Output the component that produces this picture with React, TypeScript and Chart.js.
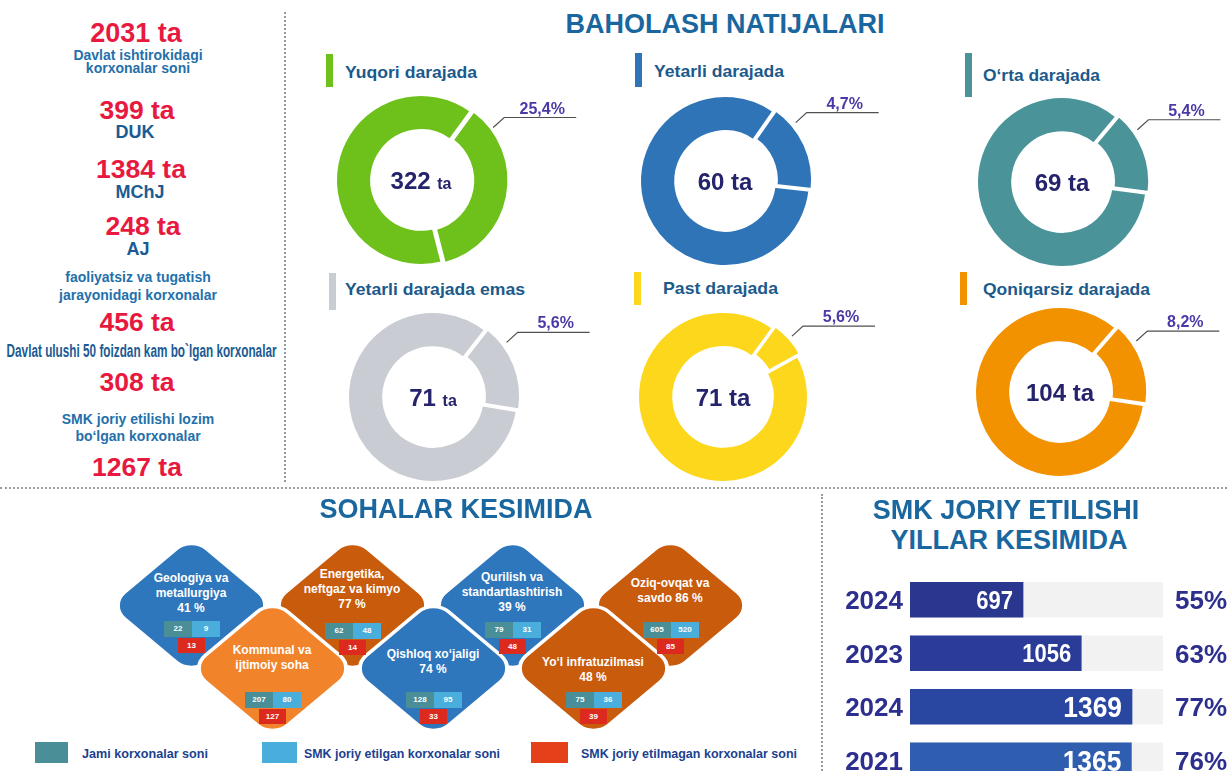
import React, { useEffect, useRef } from "react";
import { Chart, registerables } from "chart.js";

Chart.register(...registerables);

const FONT = '"Liberation Sans", Arial, Helvetica, sans-serif';

// ---------------- DATA ----------------
// Left summary panel
const totalEnterprises = 2031;
const legalFormLabels = ["DUK", "MChJ", "AJ"];
const legalFormCounts = [399, 1384, 248];
const inactiveCount = 456;
const minorityShareCount = 308;
const smkRequiredCount = 1267;

// Baholash natijalari (donuts)
const ratingCategories = [
  "Yuqori darajada",
  "Yetarli darajada",
  "O‘rta darajada",
  "Yetarli darajada emas",
  "Past darajada",
  "Qoniqarsiz darajada",
];
const ratingCounts = [322, 60, 69, 71, 71, 104];
const ratingPercentLabels = ["25,4%", "4,7%", "5,4%", "5,6%", "5,6%", "8,2%"];
// highlighted slice and remaining ring, as drawn in the picture (share of the ring)
const ratingSliceShares = [36, 17, 16, 17, 7, 16];
const ratingRestShares = [64, 83, 84, 83, 93, 84];

// Sohalar kesimida
const sectorNames = [
  ["Geologiya va", "metallurgiya"],
  ["Energetika,", "neftgaz va kimyo"],
  ["Kommunal va", "ijtimoiy soha"],
  ["Qishloq xo‘jaligi"],
  ["Qurilish va", "standartlashtirish"],
  ["Yo‘l infratuzilmasi"],
  ["Oziq-ovqat va", "savdo"],
];
const sectorShares: (number | null)[] = [41, 77, null, 74, 39, 48, 86];
const sectorTotal = [22, 62, 207, 128, 79, 75, 605];
const sectorWithSmk = [9, 48, 80, 95, 31, 36, 520];
const sectorWithoutSmk = [13, 14, 127, 33, 48, 39, 85];
const sectorLegend = [
  "Jami korxonalar soni",
  "SMK joriy etilgan korxonalar soni",
  "SMK joriy etilmagan korxonalar soni",
];

// SMK joriy etilishi yillar kesimida
const smkYears = ["2024", "2023", "2024", "2021"];
const smkCounts = [697, 1056, 1369, 1365];
const smkPercents = ["55%", "63%", "77%", "76%"];
const smkScaleMax = 1560;

// ---------------- STYLE / LAYOUT ----------------
const RED = "#e8193f";
const BLUE_TXT = "#2470ab";
const DARK_BLUE = "#1b5b93";
const TITLE = "#1a67a0";
const HEAD = "#1c5a8c";
const ratingColors = ["#6ec11b", "#2e74b7", "#4a9399", "#c9cdd3", "#fdd71c", "#f39200"];
const donutCenters = [
  [421, 180],
  [725, 181],
  [1062, 182],
  [433, 397],
  [723, 397],
  [1060, 392],
];
const donutStartAngles = [36, 35, 40, 38, 36, 41];
const centerUnitSizes = [16, 24, 24, 16, 24, 24];
const headerLayout = [
  { bx: 326, by: 54, bh: 33, tx: 345, ty: 72, w: 132 },
  { bx: 635, by: 53, bh: 34, tx: 654, ty: 71, w: 130 },
  { bx: 965, by: 53, bh: 44, tx: 983, ty: 75, w: 117 },
  { bx: 329, by: 273, bh: 37, tx: 345, ty: 289, w: 180 },
  { bx: 634, by: 272, bh: 33, tx: 663, ty: 288, w: 115 },
  { bx: 960, by: 272, bh: 33, tx: 983, ty: 289, w: 167 },
];
const smkBarColors = ["#29378f", "#2a3c98", "#2946a1", "#2f5daf"];
const SMK_TXT = "#2d2f8e";

const BLUE_D = "#2f77bd";
const ORANGE_D = "#c95b0c";
const ORANGE_L = "#f1832a";
const diamondLayout = [
  { cx: 191, cy: 605, color: BLUE_D, ty: -27, by: 16, inline: false, row: 0 },
  { cx: 352, cy: 605, color: ORANGE_D, ty: -31, by: 18, inline: false, row: 0 },
  { cx: 272, cy: 668, color: ORANGE_L, ty: -18, by: 24, inline: false, row: 1 },
  { cx: 433, cy: 668, color: BLUE_D, ty: -14, by: 24, inline: false, row: 1 },
  { cx: 512, cy: 605, color: BLUE_D, ty: -28, by: 17, inline: false, row: 0 },
  { cx: 593, cy: 668, color: ORANGE_D, ty: -6, by: 24, inline: false, row: 1 },
  { cx: 670, cy: 605, color: ORANGE_D, ty: -22, by: 17, inline: true, row: 0 },
];
const DIAMOND_SIDE = 121;
const DIAMOND_RADIUS = 24;
const BOX_TEAL = "#4a8f97";
const BOX_LIGHT = "#4aaedc";
const BOX_RED = "#dc2a1e";
const LEGEND_RED = "#e4401a";

// ---------------- HELPERS ----------------
let mctx: CanvasRenderingContext2D | null = null;
function tw(text: string, font: string): number {
  if (!mctx) mctx = document.createElement("canvas").getContext("2d");
  mctx!.font = font;
  return mctx!.measureText(text).width;
}

type TP = {
  x: number;
  y: number;
  text: string;
  size: number;
  color: string;
  align?: "center" | "left";
  fit?: number;
  weight?: number | string;
};
function Txt({ x, y, text, size, color, align = "center", fit, weight = "bold" }: TP) {
  const font = `${weight} ${size}px ${FONT}`;
  const s = fit ? fit / tw(text, font) : 1;
  const wrap: React.CSSProperties = {
    position: "absolute",
    top: y - size / 2,
    height: size,
    lineHeight: `${size}px`,
    whiteSpace: "nowrap",
    fontFamily: FONT,
    fontSize: size,
    fontWeight: weight as any,
    color,
  };
  if (align === "center") {
    wrap.left = x - 600;
    wrap.width = 1200;
    wrap.textAlign = "center";
  } else {
    wrap.left = x;
  }
  return (
    <div style={wrap}>
      <span
        style={{
          display: "inline-block",
          transform: `scaleX(${s})`,
          transformOrigin: align === "center" ? "50% 50%" : "0 50%",
        }}
      >
        {text}
      </span>
    </div>
  );
}

function Box({ x, y, w, h, color }: { x: number; y: number; w: number; h: number; color: string }) {
  return <div style={{ position: "absolute", left: x, top: y, width: w, height: h, background: color }} />;
}

// ---------------- DONUT ----------------
function Donut({ i }: { i: number }) {
  const ref = useRef<HTMLCanvasElement>(null);
  const [cx, cy] = donutCenters[i];
  useEffect(() => {
    const plugin = {
      id: "donutDeco" + i,
      afterDatasetsDraw(chart: any) {
        const ctx = chart.ctx as CanvasRenderingContext2D;
        const arc = chart.getDatasetMeta(0).data[0];
        const { x, y, startAngle, endAngle, outerRadius } = arc.getProps(
          ["x", "y", "startAngle", "endAngle", "outerRadius"],
          true
        );
        const off = arc.options.offset || 0;
        const mid = (startAngle + endAngle) / 2;
        const ox = x + Math.cos(mid) * off;
        const oy = y + Math.sin(mid) * off;
        const a = startAngle + Math.min((14 * Math.PI) / 180, (endAngle - startAngle) / 2);
        const px = ox + Math.cos(a) * (outerRadius - 1.5);
        const py = oy + Math.sin(a) * (outerRadius - 1.5);
        const ex = px + 11;
        const ey = py - 10;
        ctx.save();
        ctx.strokeStyle = "#4f4f4f";
        ctx.lineWidth = 1.2;
        ctx.beginPath();
        ctx.moveTo(px, py);
        ctx.lineTo(ex, ey);
        ctx.lineTo(ex + 72, ey);
        ctx.stroke();
        ctx.fillStyle = "#4a3aa6";
        ctx.font = `bold 16px ${FONT}`;
        ctx.textAlign = "center";
        ctx.textBaseline = "alphabetic";
        ctx.fillText(ratingPercentLabels[i], ex + 38, ey - 4);

        const numF = `bold 24px ${FONT}`;
        const unitF = `bold ${centerUnitSizes[i]}px ${FONT}`;
        const num = String(ratingCounts[i]);
        ctx.font = numF;
        const nw = ctx.measureText(num).width;
        const sw = ctx.measureText(" ").width;
        ctx.font = unitF;
        const uw = ctx.measureText("ta").width;
        const sx = x - (nw + sw + uw) / 2;
        const by = y + 8.5;
        ctx.fillStyle = "#24236c";
        ctx.textAlign = "left";
        ctx.font = numF;
        ctx.fillText(num, sx, by);
        ctx.font = unitF;
        ctx.fillText("ta", sx + nw + sw, by);
        ctx.restore();
      },
    };
    const chart = new Chart(ref.current!, {
      type: "doughnut",
      data: {
        labels: [ratingCategories[i], "boshqa"],
        datasets: [
          {
            data: [ratingSliceShares[i], ratingRestShares[i]],
            backgroundColor: [ratingColors[i], ratingColors[i]],
            borderColor: "#ffffff",
            borderWidth: 3,
            hoverBorderWidth: 3,
            offset: [8, 0],
            hoverOffset: 0,
          } as any,
        ],
      },
      options: {
        responsive: false,
        animation: false,
        devicePixelRatio: 1,
        events: [],
        rotation: donutStartAngles[i],
        radius: 85.5,
        cutout: 54.5,
        layout: { padding: { left: 10, right: 90, top: 0, bottom: 0 } },
        plugins: { legend: { display: false }, tooltip: { enabled: false } },
      } as any,
      plugins: [plugin],
    });
    return () => chart.destroy();
  }, [i]);
  return (
    <canvas
      ref={ref}
      width={300}
      height={200}
      style={{ position: "absolute", left: cx - 110, top: cy - 100, width: 300, height: 200 }}
    />
  );
}

// ---------------- SMK BARS ----------------
function SmkBars() {
  const ref = useRef<HTMLCanvasElement>(null);
  useEffect(() => {
    const plugin = {
      id: "smkLabels",
      afterDatasetsDraw(chart: any) {
        const ctx = chart.ctx as CanvasRenderingContext2D;
        const meta = chart.getDatasetMeta(0);
        const yScale = chart.scales.y;
        meta.data.forEach((el: any, i: number) => {
          const { x, base } = el.getProps(["x", "y", "base"], true);
          const y = yScale.getPixelForValue(i);
          const fs = x - base > 200 ? 30 : 25;
          ctx.save();
          ctx.translate(x - 10, y + fs * 0.358);
          ctx.scale(0.88, 1);
          ctx.font = `bold ${fs}px ${FONT}`;
          ctx.fillStyle = "#ffffff";
          ctx.textAlign = "right";
          ctx.textBaseline = "alphabetic";
          ctx.fillText(String(smkCounts[i]), 0, 0);
          ctx.restore();
          ctx.save();
          ctx.font = `bold 26px ${FONT}`;
          ctx.fillStyle = SMK_TXT;
          ctx.textBaseline = "alphabetic";
          ctx.textAlign = "left";
          ctx.fillText(smkPercents[i], chart.chartArea.right + 12, y + 26 * 0.358);
          ctx.textAlign = "right";
          ctx.fillText(smkYears[i], chart.chartArea.left - 7, y + 26 * 0.358);
          ctx.restore();
        });
      },
    };
    const chart = new Chart(ref.current!, {
      type: "bar",
      data: {
        labels: smkYears,
        datasets: [
          {
            data: smkCounts,
            backgroundColor: smkBarColors,
            grouped: false,
            barThickness: 35,
          } as any,
          {
            data: smkYears.map(() => smkScaleMax),
            backgroundColor: "#f2f2f2",
            grouped: false,
            barThickness: 35,
          } as any,
        ],
      },
      options: {
        indexAxis: "y",
        responsive: false,
        animation: false,
        devicePixelRatio: 1,
        events: [],
        layout: { padding: { top: 3, right: 77, bottom: 0, left: 0 } },
        scales: {
          x: { display: false, min: 0, max: smkScaleMax },
          y: {
            grid: { display: false, drawTicks: false },
            border: { display: false },
            ticks: { display: false },
            afterFit(scale: any) {
              scale.width = 80;
              scale.paddingTop = 0;
              scale.paddingBottom = 0;
            },
          },
        },
        plugins: { legend: { display: false }, tooltip: { enabled: false } },
      } as any,
      plugins: [plugin],
    });
    return () => chart.destroy();
  }, []);
  return (
    <canvas
      ref={ref}
      width={410}
      height={217}
      style={{ position: "absolute", left: 830, top: 570, width: 410, height: 217 }}
    />
  );
}

// ---------------- DIAMONDS ----------------
function DiamondShape({ i }: { i: number }) {
  const L = diamondLayout[i];
  const half = DIAMOND_SIDE / 2;
  return (
    <div
      style={{
        position: "absolute",
        left: L.cx - half,
        top: L.cy - half,
        width: DIAMOND_SIDE,
        height: DIAMOND_SIDE,
        boxSizing: "border-box",
        border: "4px solid #ffffff",
        borderRadius: DIAMOND_RADIUS,
        background: L.color,
        transform: "scaleY(0.84) rotate(45deg)",
      }}
    />
  );
}

function DiamondContent({ i }: { i: number }) {
  const L = diamondLayout[i];
  const lines = [...sectorNames[i]];
  const share = sectorShares[i];
  if (share !== null) {
    if (L.inline) lines[lines.length - 1] = `${lines[lines.length - 1]} ${share} %`;
    else lines.push(`${share} %`);
  }
  const pairTop = L.cy + L.by;
  const numStyle = (x: number, y: number, w: number, h: number, bg: string): React.CSSProperties => ({
    position: "absolute",
    left: x,
    top: y,
    width: w,
    height: h,
    background: bg,
    color: "#fff",
    fontFamily: FONT,
    fontWeight: "bold",
    fontSize: 8,
    lineHeight: `${h}px`,
    textAlign: "center",
  });
  return (
    <>
      {lines.map((t, k) => (
        <Txt key={k} x={L.cx} y={L.cy + L.ty + k * 15} text={t} size={12} color="#ffffff" />
      ))}
      <div style={numStyle(L.cx - 27, pairTop, 28, 16, BOX_TEAL)}>{sectorTotal[i]}</div>
      <div style={numStyle(L.cx + 1, pairTop, 28, 16, BOX_LIGHT)}>{sectorWithSmk[i]}</div>
      <div style={numStyle(L.cx - 13, pairTop + 17, 27, 15, BOX_RED)}>{sectorWithoutSmk[i]}</div>
    </>
  );
}

// ---------------- APP ----------------
export default function App() {
  useEffect(() => {
    document.body.style.margin = "0";
  }, []);
  const lx = 138;
  const topRow = diamondLayout.map((d, i) => (d.row === 0 ? i : -1)).filter((i) => i >= 0);
  const bottomRow = diamondLayout.map((d, i) => (d.row === 1 ? i : -1)).filter((i) => i >= 0);
  return (
    <div
      style={{
        position: "absolute",
        left: 0,
        top: 0,
        width: 1227,
        height: 771,
        overflow: "hidden",
        background: "#ffffff",
        fontFamily: FONT,
      }}
    >
      {/* separators */}
      <div style={{ position: "absolute", left: 284, top: 12, height: 470, borderLeft: "2px dotted #9a9a9a" }} />
      <div style={{ position: "absolute", left: 0, top: 487, width: 1227, borderTop: "2px dotted #9a9a9a" }} />
      <div style={{ position: "absolute", left: 821, top: 494, height: 280, borderLeft: "2px dotted #9a9a9a" }} />

      {/* left panel */}
      <Txt x={lx - 2} y={33} text={`${totalEnterprises} ta`} size={27} color={RED} />
      <Txt x={lx} y={55} text="Davlat ishtirokidagi" size={14} color={BLUE_TXT} />
      <Txt x={lx} y={68} text="korxonalar soni" size={14} color={BLUE_TXT} />
      <Txt x={lx - 1} y={110} text={`${legalFormCounts[0]} ta`} size={26.5} color={RED} />
      <Txt x={lx - 3} y={132} text={legalFormLabels[0]} size={18} color={DARK_BLUE} />
      <Txt x={lx + 3} y={169} text={`${legalFormCounts[1]} ta`} size={26.5} color={RED} />
      <Txt x={lx + 2} y={192} text={legalFormLabels[1]} size={18} color={DARK_BLUE} />
      <Txt x={lx + 5} y={226} text={`${legalFormCounts[2]} ta`} size={26.5} color={RED} />
      <Txt x={lx} y={249} text={legalFormLabels[2]} size={18} color={DARK_BLUE} />
      <Txt x={lx} y={277} text="faoliyatsiz va tugatish" size={14} color={BLUE_TXT} />
      <Txt x={lx} y={295} text="jarayonidagi korxonalar" size={14} color={BLUE_TXT} />
      <Txt x={lx - 1} y={322} text={`${inactiveCount} ta`} size={26.5} color={RED} />
      <Txt
        x={142}
        y={351}
        text="Davlat ulushi 50 foizdan kam bo`lgan korxonalar"
        size={18}
        color={DARK_BLUE}
        fit={270}
      />
      <Txt x={lx - 1} y={382} text={`${minorityShareCount} ta`} size={26.5} color={RED} />
      <Txt x={lx} y={419} text="SMK joriy etilishi lozim" size={14} color={BLUE_TXT} />
      <Txt x={lx} y={436} text="bo‘lgan korxonalar" size={14} color={BLUE_TXT} />
      <Txt x={lx - 1} y={467} text={`${smkRequiredCount} ta`} size={26.5} color={RED} />

      {/* baholash natijalari */}
      <Txt x={725} y={24} text="BAHOLASH NATIJALARI" size={27} color={TITLE} />
      {headerLayout.map((h, i) => (
        <React.Fragment key={i}>
          <Box x={h.bx} y={h.by} w={7} h={h.bh} color={ratingColors[i]} />
          <Txt x={h.tx} y={h.ty} text={ratingCategories[i]} size={17} color={HEAD} align="left" fit={h.w} />
        </React.Fragment>
      ))}
      {ratingCounts.map((_, i) => (
        <Donut key={i} i={i} />
      ))}

      {/* sohalar kesimida */}
      <Txt x={456} y={509} text="SOHALAR KESIMIDA" size={27} color={TITLE} />
      {topRow.map((i) => (
        <DiamondShape key={"t" + i} i={i} />
      ))}
      {bottomRow.map((i) => (
        <DiamondShape key={"b" + i} i={i} />
      ))}
      {sectorNames.map((_, i) => (
        <DiamondContent key={"c" + i} i={i} />
      ))}
      <Box x={35} y={742} w={33} h={21} color={BOX_TEAL} />
      <Txt x={82} y={753} text={sectorLegend[0]} size={13} color="#203f8f" align="left" fit={126} />
      <Box x={262} y={742} w={35} h={21} color={BOX_LIGHT} />
      <Txt x={304} y={753} text={sectorLegend[1]} size={13} color="#203f8f" align="left" fit={196} />
      <Box x={531} y={742} w={37} h={21} color={LEGEND_RED} />
      <Txt x={581} y={753} text={sectorLegend[2]} size={13} color="#203f8f" align="left" fit={216} />

      {/* smk yillar kesimida */}
      <Txt x={1006} y={510} text="SMK JORIY ETILISHI" size={27} color={TITLE} />
      <Txt x={1009} y={540} text="YILLAR KESIMIDA" size={27} color={TITLE} />
      <SmkBars />
    </div>
  );
}
